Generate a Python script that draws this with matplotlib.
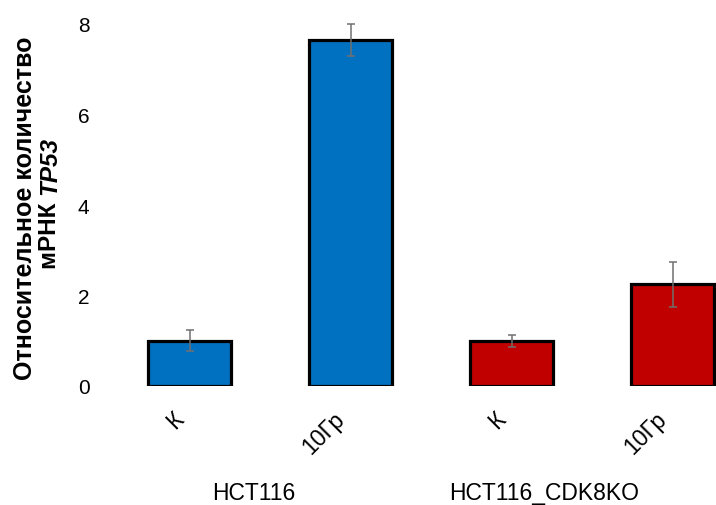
import matplotlib.pyplot as plt
import matplotlib.transforms as mtransforms

plt.rcParams['font.family'] = ['Liberation Sans', 'DejaVu Sans']

# data
conditions = ['К', '10Гр', 'К', '10Гр']
values = [1.0, 7.65, 1.0, 2.25]
errors = [0.23, 0.36, 0.13, 0.5]
colors = ['#0070C0', '#0070C0', '#C00000', '#C00000']
groups = ['HCT116', 'HCT116_CDK8KO']
group_pos = [0.40, 2.20]
yticks = [0, 2, 4, 6, 8]

W, H = 716, 506
fig = plt.figure(figsize=(W / 100, H / 100), dpi=100)
# axes placed in pixel units: left 109, bottom y=387, top y=25
ax = fig.add_axes([109 / W, (H - 387) / H, (W - 109) / W, 362 / H])

x = list(range(len(values)))
ax.bar(x, values, width=0.51, color=colors, edgecolor='black', linewidth=2.3, zorder=2)
ax.errorbar(x, values, yerr=errors, fmt='none', ecolor='#707070', elinewidth=1.1,
            capsize=3, capthick=1.1, zorder=3, clip_on=False)

ax.set_xlim(-0.5, 3.27)
ax.set_ylim(0, 8)
ax.set_yticks(yticks)
ax.set_yticklabels([str(t) for t in yticks], fontsize=15)
ax.set_xticks(x)
ax.set_xticklabels(conditions, fontsize=16.5, rotation=45, ha='right', rotation_mode='anchor')
ax.tick_params(axis='y', length=0, pad=14)
ax.tick_params(axis='x', length=0, pad=15)
for s in ax.spines.values():
    s.set_visible(False)

shift = mtransforms.ScaledTranslation(-0.18, 0, fig.dpi_scale_trans)
for lab in ax.get_xticklabels():
    lab.set_transform(lab.get_transform() + shift)

for g, p in zip(groups, group_pos):
    ax.text(p, -(494 - 387) / 362, g, transform=ax.get_xaxis_transform(), fontsize=16.5,
            ha='center', va='center')

# y label, two lines, second one has italic gene name
fig.text(25 / W, 1 - 208 / H, 'Относительное количество', rotation=90,
         fontsize=18, fontweight='bold', ha='center', va='center')
fig.canvas.draw()
r = fig.canvas.get_renderer()
t1 = fig.text(50 / W, 0.5, 'мРНК ', rotation=90, fontsize=17.5, fontweight='bold',
              ha='center', va='bottom')
t2 = fig.text(50 / W, 0.5, 'TP53', rotation=90, fontsize=17.5, fontweight='bold',
              style='italic', ha='center', va='bottom')
h1 = t1.get_window_extent(r).height
h2 = t2.get_window_extent(r).height
y0 = (H - 203) - (h1 + h2) / 2
t1.set_y(y0 / H)
t2.set_y((y0 + h1) / H)

plt.savefig('out.png', dpi=100)
